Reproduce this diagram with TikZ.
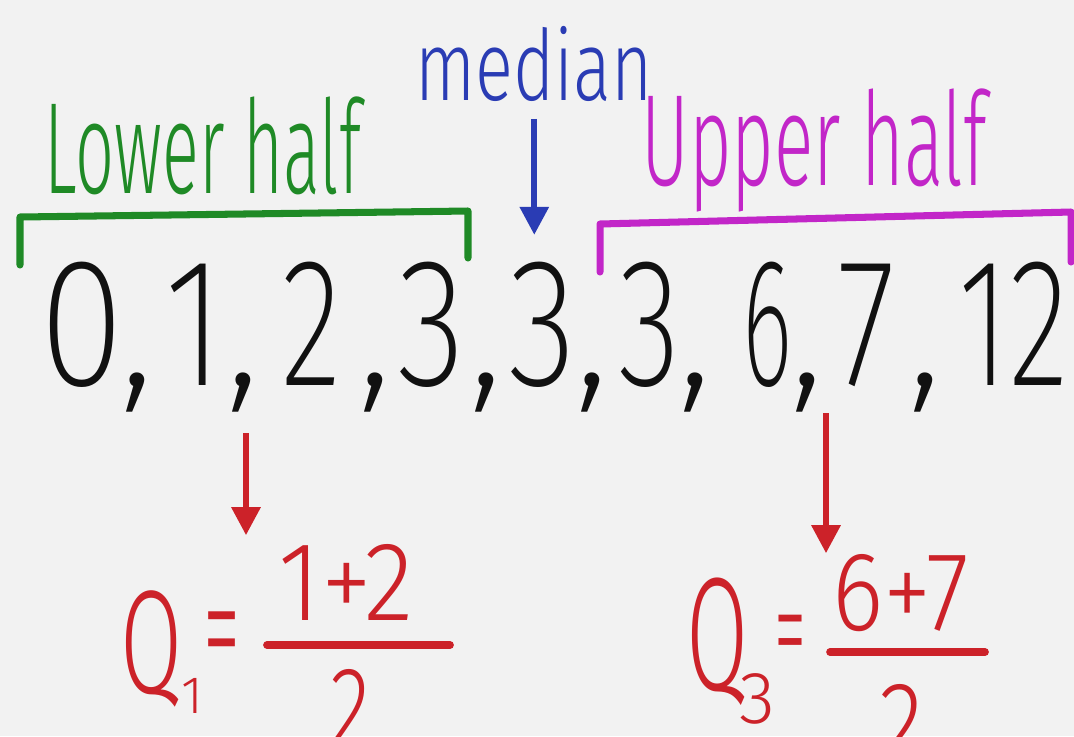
\documentclass[tikz,border=0pt]{standalone}
\usepackage{graphicx}
\usepackage{fontspec}
\IfFontExistsTF{Fira Sans ExtraLight}{\newfontfamily\thinfont{Fira Sans ExtraLight}}{%
  \IfFontExistsTF{Fira Sans Light}{\newfontfamily\thinfont{Fira Sans Light}}{\newfontfamily\thinfont{Fira Sans}}}
\IfFontExistsTF{Fira Sans Light}{\newfontfamily\handfont{Fira Sans Light}}{\newfontfamily\handfont{Fira Sans}}
\usetikzlibrary{arrows.meta,positioning}
\definecolor{paper}{HTML}{F2F2F2}
\definecolor{ink}{HTML}{111111}
\definecolor{halfgreen}{HTML}{1F8A26}
\definecolor{halfmagenta}{HTML}{C226C8}
\definecolor{medblue}{HTML}{2A3CB4}
\definecolor{qred}{HTML}{CC2229}
\newcommand{\fitw}[2]{\resizebox{#1}{\height}{#2}}

\begin{document}
\begin{tikzpicture}[
    x=0.01cm, y=-0.01cm,
    numtext/.style={font=\thinfont\fontsize{52}{52}\selectfont, text=ink, inner sep=0pt, anchor=base},
    halftext/.style={font=\handfont\fontsize{37}{37}\selectfont, inner sep=0pt, anchor=base west},
    qtext/.style={font=\handfont\fontsize{32}{32}\selectfont, text=qred, inner sep=0pt, anchor=base west},
    bracket/.style={line width=2pt, line join=round, line cap=round},
    fracbar/.style={draw=qred, line width=2.2pt, line cap=round},
    arr/.style={-{Triangle[width=0.28cm,length=0.28cm]}, line width=1.7pt},
]
\clip (0,0) rectangle (1074,736);
\fill[paper] (0,0) rectangle (1074,736);

% data values
\node[numtext] (n0) at (82,385)   {\fitw{0.85cm}{0}};
\node[numtext] (n1) at (195,385)  {\fitw{0.6cm}{1}};
\node[numtext] (n2) at (312,385)  {\fitw{0.6cm}{2}};
\node[numtext] (n3) at (432,385)  {\fitw{0.68cm}{3}};
\node[numtext] (n4) at (543,385)  {\fitw{0.68cm}{3}};
\node[numtext] (n5) at (650,385)  {\fitw{0.62cm}{3}};
\node[numtext] (n6) at (767,385)  {\fitw{0.5cm}{6}};
\node[numtext] (n7) at (866,385)  {\fitw{0.58cm}{7}};
\node[numtext] (n8) at (1014,385) {\fitw{1.1cm}{12}};

\node[numtext] (c0) at (137,385) {,};
\node[numtext] (c1) at (243,385) {,};
\node[numtext] (c2) at (375,385) {,};
\node[numtext] (c3) at (486,385) {,};
\node[numtext] (c4) at (592,385) {,};
\node[numtext] (c5) at (695,385) {,};
\node[numtext] (c6) at (807,385) {,};
\node[numtext] (c7) at (925,385) {,};

% halves and median
\node[halftext, text=halfgreen] (lower) at (44,193) {\fitw{3.16cm}{Lower half}};
\node[halftext, text=halfmagenta] (upper) at (641,185) {\fitw{3.45cm}{Upper half}};
\node[halftext, text=medblue, font=\handfont\fontsize{28}{28}\selectfont] (median) at (415,100) {\fitw{2.37cm}{median}};

\draw[bracket, halfgreen] (20,265) -- (20,217) -- (468,211) -- (468,258);
\draw[bracket, halfmagenta] (600,272) -- (600,224) -- (1071,212) -- (1071,262);

\draw[arr, medblue, shorten <=0.17cm, shorten >=0.26cm] (median.south) -- (median.south |- n4.north);

% quartiles
\node[qtext, font=\handfont\fontsize{42}{42}\selectfont] (q1) at (120,693) {\fitw{0.62cm}{Q}};
\node[qtext, font=\handfont\fontsize{15}{15}\selectfont, anchor=base] (q1sub) at (192,713) {1};
\node[qtext, font=\handfont\fontsize{44}{44}\selectfont, anchor=center] (q1eq) at (222,646) {\fitw{0.37cm}{=}};
\node[qtext] (q1num) at (278,620) {\fitw{1.35cm}{1+2}};
\node[qtext, anchor=base] (q1den) at (351,745) {\fitw{0.4cm}{2}};
\draw[fracbar] (267,645) -- (450,645);

\node[qtext, font=\handfont\fontsize{46}{46}\selectfont] (q3) at (686,690) {\fitw{0.62cm}{Q}};
\node[qtext, font=\handfont\fontsize{21}{21}\selectfont, anchor=base] (q3sub) at (757,723) {3};
\node[qtext, font=\handfont\fontsize{38}{38}\selectfont, anchor=center] (q3eq) at (790,645) {\fitw{0.32cm}{=}};
\node[qtext] (q3num) at (832,630) {\fitw{1.36cm}{6+7}};
\node[qtext, anchor=base] (q3den) at (901,760) {\fitw{0.44cm}{2}};
\draw[fracbar] (830,652) -- (985,652);

\coordinate (lowq) at (246,433);
\coordinate (upq) at (826,413);
\draw[arr, qred, shorten >=0.08cm] (lowq) -- (lowq |- q1num.north);
\draw[arr, qred] (upq) -- (upq |- q3num.north);

\end{tikzpicture}
\end{document}
